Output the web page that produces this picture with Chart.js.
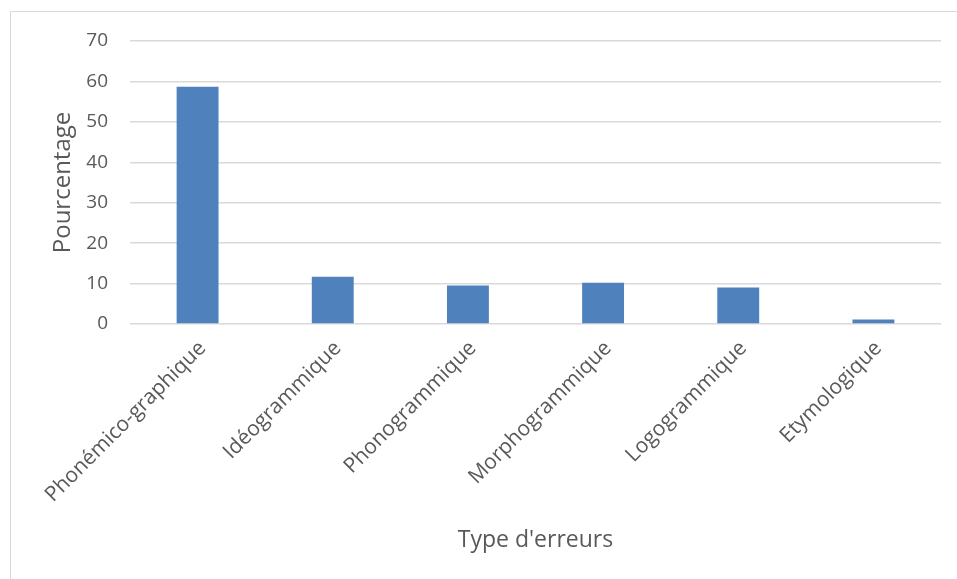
<!DOCTYPE html>
<html>
<head>
<meta charset="utf-8">
<script src="https://cdn.jsdelivr.net/npm/chart.js@4.4.1/dist/chart.umd.min.js"></script>
<style>
    html, body { margin: 0; padding: 0; background: #fff; }
    #frame {
        position: absolute; left: 10px; top: 11px; right: 0; bottom: 0;
        border-left: 1px solid #d9d9d9; border-top: 1px solid #d9d9d9;
    }
    #wrap { position: absolute; left: 0; top: 0; width: 957px; height: 579px; }
</style>
</head>
<body>
<div id="frame"></div>
<div id="wrap"><canvas id="errChart"></canvas></div>
<script>
// Data
const categories = ['Phonémico-graphique', 'Idéogrammique', 'Phonogrammique', 'Morphogrammique', 'Logogrammique', 'Etymologique'];
const percentages = [58.7, 11.7, 9.5, 10.2, 9.0, 1.1];
const yTicks = [0, 10, 20, 30, 40, 50, 60, 70];

const textColor = '#595959';
const gridColor = '#d9d9d9';

// Build the bar chart
function initChart() {
    const ctx = document.getElementById('errChart').getContext('2d');
    new Chart(ctx, {
        type: 'bar',
        data: {
            labels: categories,
            datasets: [{
                label: 'Pourcentage',
                data: percentages,
                backgroundColor: '#4f81bd',
                borderWidth: 0,
                barPercentage: 0.31,
                categoryPercentage: 1
            }]
        },
        options: {
            responsive: true,
            maintainAspectRatio: false,
            animation: false,
            layout: {
                padding: { top: 41, right: 16, bottom: 0, left: 0 }
            },
            plugins: {
                legend: { display: false },
                tooltip: { enabled: false }
            },
            scales: {
                x: {
                    grid: { display: false, drawTicks: false },
                    border: { display: false },
                    ticks: {
                        color: textColor,
                        font: { family: 'Open Sans', size: 21 },
                        maxRotation: 45,
                        minRotation: 45,
                        padding: 12,
                        labelOffset: 5
                    },
                    title: {
                        display: true,
                        text: "Type d'erreurs",
                        color: textColor,
                        font: { family: 'Open Sans', size: 23 },
                        padding: { top: 0, bottom: 25 }
                    },
                    afterFit: scale => { scale.height = 255; }
                },
                y: {
                    min: 0,
                    max: 70,
                    afterBuildTicks: scale => {
                        scale.ticks = yTicks.map(v => ({ value: v }));
                    },
                    grid: { color: gridColor, lineWidth: 1.5, drawTicks: false },
                    border: { display: false },
                    ticks: {
                        color: textColor,
                        font: { family: 'Open Sans', size: 19 },
                        padding: 22
                    },
                    title: {
                        display: true,
                        text: 'Pourcentage',
                        color: textColor,
                        font: { family: 'Open Sans', size: 24 },
                        padding: { top: 49, bottom: 0 }
                    },
                    afterFit: scale => { scale.width = 130; }
                }
            }
        }
    });
}

initChart();
</script>
</body>
</html>
